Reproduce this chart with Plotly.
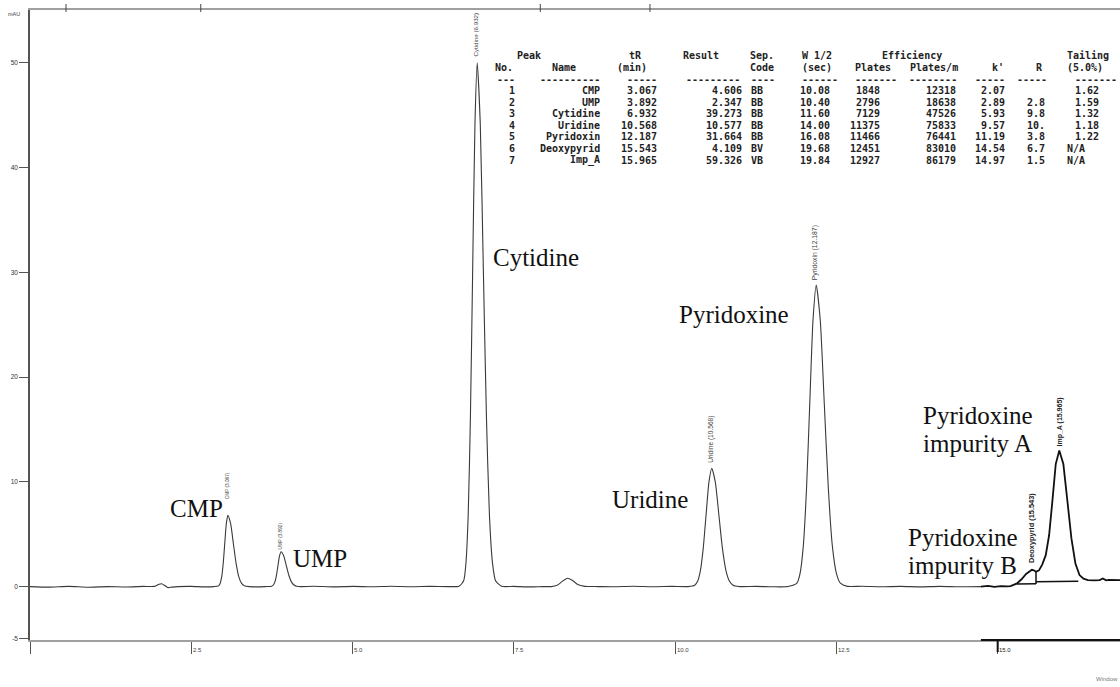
import plotly.graph_objects as go

# ---------------- data ----------------
# chromatogram, time [min] / signal [mAU]
trace_time = [0.0, 0.3, 0.6, 0.9, 1.2, 1.5, 1.75, 1.93, 2.0, 2.04, 2.09, 2.14, 2.2, 2.3, 2.5, 2.7, 2.85,
              2.923, 2.947, 2.971, 2.995, 3.019, 3.043, 3.067, 3.110, 3.152, 3.195, 3.237, 3.28, 3.322, 3.40,
              3.55, 3.65,
              3.748, 3.772, 3.796, 3.82, 3.844, 3.868, 3.892, 3.932, 3.972, 4.012, 4.052, 4.092, 4.132, 4.2,
              4.4, 4.7, 5.0, 5.3, 5.6, 5.9, 6.2, 6.5, 6.65,
              6.722, 6.757, 6.792, 6.827, 6.862, 6.897, 6.932, 6.98, 7.027, 7.075, 7.122, 7.17, 7.217, 7.31,
              7.5, 7.75, 7.95,
              8.08, 8.17, 8.25, 8.33, 8.41, 8.49, 8.6,
              8.8, 9.05, 9.35, 9.65, 9.95, 10.2,
              10.304, 10.348, 10.392, 10.436, 10.48, 10.524, 10.568, 10.623, 10.678, 10.733, 10.788, 10.843,
              10.898, 11.0,
              11.25, 11.5, 11.75,
              11.887, 11.937, 11.987, 12.037, 12.087, 12.137, 12.187, 12.25, 12.312, 12.375, 12.437, 12.5,
              12.562, 12.67,
              12.9, 13.2, 13.5, 13.8, 14.1, 14.4, 14.74]
trace_mau = [0.0, -0.05, 0.02, -0.06, 0.0, -0.04, 0.02, 0.02, 0.22, 0.27, 0.1, -0.1, -0.05, 0.0, 0.02, -0.03, 0.0,
             0.07, 0.30, 0.92, 2.21, 4.13, 6.0, 6.8, 6.0, 4.13, 2.21, 0.92, 0.30, 0.08, 0.0,
             -0.03, 0.0,
             0.04, 0.15, 0.45, 1.08, 2.02, 2.94, 3.33, 2.94, 2.02, 1.08, 0.45, 0.15, 0.04, 0.0,
             0.03, -0.03, 0.02, -0.02, 0.03, -0.02, 0.02, 0.0, 0.04,
             0.55, 2.2, 6.75, 16.25, 30.35, 44.1, 50.0, 44.1, 30.35, 16.25, 6.75, 2.2, 0.55, 0.03,
             0.02, -0.03, 0.0,
             0.0, 0.12, 0.5, 0.8, 0.58, 0.2, 0.02,
             0.0, -0.02, 0.03, -0.02, 0.02, 0.0,
             0.12, 0.5, 1.53, 3.67, 6.86, 9.97, 11.3, 9.97, 6.86, 3.67, 1.53, 0.5,
             0.12, 0.0,
             0.02, -0.02, 0.0,
             0.32, 1.27, 3.89, 9.36, 17.48, 25.4, 28.8, 25.4, 17.48, 9.36, 3.89, 1.27,
             0.32, 0.02,
             0.03, -0.02, 0.02, -0.03, 0.02, -0.02, 0.0]

# end segment (drawn heavier in the report)
tail_time = [14.74, 14.85, 14.95, 15.05, 15.15, 15.2, 15.30, 15.37, 15.44, 15.50, 15.53, 15.56, 15.594, 15.64,
             15.69, 15.745, 15.797, 15.85, 15.90, 15.955, 16.018, 16.08, 16.143, 16.205, 16.268, 16.33, 16.40,
             16.5, 16.58, 16.63, 16.68, 16.72, 16.8, 16.9]
tail_mau = [0.0, 0.06, -0.03, 0.05, 0.02, 0.05, 0.3, 0.7, 1.2, 1.52, 1.6, 1.55, 1.42, 1.55,
            2.1, 3.0, 4.9, 8.3, 11.7, 13.0, 11.7, 8.2, 4.6, 2.2, 1.1, 0.75, 0.62,
            0.6, 0.62, 0.78, 0.6, 0.64, 0.6, 0.62]

# integration baseline / drop line
base_time = [15.295, 15.594, None, 15.594, 15.594, None, 15.594, 16.25]
base_mau = [0.24, 0.26, None, 0.24, 1.40, None, 0.46, 0.50]

# report table
peak_no = [1, 2, 3, 4, 5, 6, 7]
peak_names = ["CMP", "UMP", "Cytidine", "Uridine", "Pyridoxin", "Deoxypyrid", "Imp_A"]
peak_tr = [3.067, 3.892, 6.932, 10.568, 12.187, 15.543, 15.965]
result = [4.606, 2.347, 39.273, 10.577, 31.664, 4.109, 59.326]
sep_code = ["BB", "BB", "BB", "BB", "BB", "BV", "VB"]
w_half = [10.08, 10.40, 11.60, 14.00, 16.08, 19.68, 19.84]
plates = [1848, 2796, 7129, 11375, 11466, 12451, 12927]
plates_per_m = [12318, 18638, 47526, 75833, 76441, 83010, 86179]
k_prime = [2.07, 2.89, 5.93, 9.57, 11.19, 14.54, 14.97]
resolution = ["", "2.8", "9.8", "10.", "3.8", "6.7", "1.5"]
tailing = ["1.62", "1.59", "1.32", "1.18", "1.22", "N/A", "N/A"]

header_1 = ["Peak", "tR", "Result", "Sep.", "W 1/2", "Efficiency", "Tailing"]
header_2 = ["No.", "Name", "(min)", "Code", "(sec)", "Plates", "Plates/m", "k'", "R", "(5.0%)"]

# rotated labels above the peaks
label_time = [3.059, 3.886, 6.913, 10.552, 12.168, 15.528, 15.967]
label_mau = [9.62, 4.85, 52.7, 14.08, 31.92, 5.56, 15.67]

# big compound names
name_text = ["CMP", "UMP", "Cytidine", "Uridine", "Pyridoxine"]
name_time = [2.584, 4.488, 7.851, 9.611, 10.908]
name_mau = [7.47, 2.66, 31.39, 8.27, 25.97]
imp_text = ["Pyridoxine", "impurity A", "Pyridoxine", "impurity B"]
imp_time = [13.838, 13.838, 13.61, 13.61]
imp_mau = [16.29, 13.62, 4.68, 2.05]

event_time = [0.558, 2.647, 7.91, 9.61]

xtick_vals = [0, 2.5, 5.0, 7.5, 10.0, 12.5, 15.0]
xtick_text = ["", "2.5", "5.0", "7.5", "10.0", "12.5", "15.0"]
ytick_vals = [-5, 0, 10, 20, 30, 40, 50]
ytick_text = ["-5", "0", "10", "20", "30", "40", "50"]

# ---------------- layout constants ----------------
W, H = 1120, 687
ML, MR, MT, MB = 30, 0, 10, 47
PW, PH = W - ML - MR, H - MT - MB
X_RANGE = [0, 16.896]
Y_RANGE = [-5.1, 55.05]


def px_x(px):
    return (px - ML) / PW


def px_y(py):
    return (H - MB - py) / PH


fig = go.Figure()

fig.add_trace(go.Scatter(x=trace_time, y=trace_mau, mode="lines",
                         line=dict(color="#3a3a3a", width=1.1, shape="spline", smoothing=0.6),
                         hoverinfo="skip", showlegend=False))
fig.add_trace(go.Scatter(x=tail_time, y=tail_mau, mode="lines",
                         line=dict(color="#111111", width=1.8),
                         hoverinfo="skip", showlegend=False))
fig.add_trace(go.Scatter(x=base_time, y=base_mau, mode="lines",
                         line=dict(color="#111111", width=1.5),
                         hoverinfo="skip", showlegend=False))
fig.add_trace(go.Scatter(x=event_time, y=[Y_RANGE[1] + 0.45] * len(event_time), mode="markers",
                         marker=dict(symbol="y-up-open", size=7, color="#444444",
                                     line=dict(color="#444444", width=1.2)),
                         cliponaxis=False, hoverinfo="skip", showlegend=False))

ann = []
# rotated peak labels
label_sizes = [4.7, 4.7, 6.2, 6.6, 6.8, 7.4, 7.0]
for i, (n, tr) in enumerate(zip(peak_names, peak_tr)):
    bold = i >= 5
    ann.append(dict(x=label_time[i], y=label_mau[i], xref="x", yref="y",
                    text=f"{n} ({tr:.3f})", textangle=-90, showarrow=False,
                    xanchor="center", yanchor="middle", borderpad=0, borderwidth=0,
                    font=dict(family="Liberation Sans, Arial", size=label_sizes[i],
                              color="#222222" if bold else "#444444",
                              weight="bold" if bold else "normal")))

# big serif names
for t, xv, yv in zip(name_text, name_time, name_mau):
    ann.append(dict(x=xv, y=yv, xref="x", yref="y", text=t, showarrow=False,
                    xanchor="center", yanchor="middle", borderpad=0, borderwidth=0,
                    font=dict(family="Liberation Serif, Times New Roman", size=25, color="#111111")))
for t, xv, yv in zip(imp_text, imp_time, imp_mau):
    ann.append(dict(x=xv, y=yv, xref="x", yref="y", text=t, showarrow=False,
                    xanchor="left", yanchor="middle", borderpad=0, borderwidth=0,
                    font=dict(family="Liberation Serif, Times New Roman", size=25, color="#111111")))

# x tick labels (to the right of each tick)
for v, t in zip(xtick_vals, xtick_text):
    if not t:
        continue
    ann.append(dict(x=v, y=px_y(650), xref="x", yref="paper", text=t, showarrow=False,
                    xanchor="left", yanchor="middle", xshift=1.5, borderpad=0, borderwidth=0,
                    font=dict(family="Liberation Sans, Arial", size=6,
                              color="#222222" if v == 15.0 else "#444444")))

ann.append(dict(x=px_x(14), y=px_y(14), xref="paper", yref="paper", text="mAU", showarrow=False,
                xanchor="center", yanchor="middle", borderpad=0, borderwidth=0,
                font=dict(family="Liberation Sans, Arial", size=5.5, color="#444444")))
ann.append(dict(x=px_x(1118), y=px_y(679), xref="paper", yref="paper", text="Window", showarrow=False,
                xanchor="right", yanchor="middle", borderpad=0, borderwidth=0,
                font=dict(family="Liberation Sans, Arial", size=6, color="#777777")))

# ---------------- report table (one text per cell) ----------------
TFONT = dict(family="DejaVu Sans Mono", size=10, color="#222222", weight="bold")


def cell(text, px, py, anchor):
    ann.append(dict(x=px_x(px), y=px_y(py), xref="paper", yref="paper",
                    text=text.replace(" ", "\u00a0"), showarrow=False,
                    xanchor=anchor, yanchor="middle", borderpad=0, borderwidth=0, font=TFONT))


ROW_H1, ROW_H2, ROW_DASH = 55.7, 67.8, 79.4
row_py = [90.7 + 11.55 * i for i in range(len(peak_no))]

h1_left = [517, 629, 683, 750, 802, 882, 1067]
for t, px in zip(header_1, h1_left):
    cell(t, px, ROW_H1, "left")
h2_left = [495, 552, 617, 750, 802, 855, 910, 992, 1036, 1067]
for t, px in zip(header_2, h2_left):
    cell(t, px, ROW_H2, "left")

# dashed rule: (anchor px, count, anchor side)
dash_spec = [(515, 3, "right"), (600, 10, "right"), (657, 5, "right"), (740, 9, "right"),
             (751, 4, "left"), (838, 6, "right"), (897, 7, "right"), (957, 8, "right"),
             (1005, 5, "right"), (1047, 5, "right"), (1117, 7, "right")]
for px, n, side in dash_spec:
    cell("-" * n, px, ROW_DASH, side)

for i, py in enumerate(row_py):
    cell(str(peak_no[i]), 515, py, "right")
    cell(peak_names[i], 600, py, "right")
    cell(f"{peak_tr[i]:.3f}", 657, py, "right")
    cell(f"{result[i]:.3f}", 742, py, "right")
    cell(sep_code[i], 751, py, "left")
    cell(f"{w_half[i]:.2f}", 830, py, "right")
    cell(str(plates[i]), 880, py, "right")
    cell(str(plates_per_m[i]), 956, py, "right")
    cell(f"{k_prime[i]:.2f}", 1005, py, "right")
    if resolution[i]:
        cell(resolution[i], 1045, py, "right")
    if tailing[i] == "N/A":
        cell(tailing[i], 1067, py, "left")
    else:
        cell(tailing[i], 1099, py, "right")

# heavy end of the time axis and its 15.0 tick
shapes = [
    dict(type="line", xref="x", yref="paper", x0=14.74, x1=X_RANGE[1], y0=0, y1=0,
         line=dict(color="#111111", width=2)),
    dict(type="line", xref="x", yref="paper", x0=15.0, x1=15.0, y0=0, y1=-12 / PH,
         line=dict(color="#111111", width=2)),
]
# small event ticks crossing the top frame line
for t in event_time:
    shapes.append(dict(type="line", xref="x", yref="paper", x0=t, x1=t, y0=1 - 2 / PH, y1=1 + 6 / PH,
                       line=dict(color="#444444", width=1)))

fig.update_layout(
    width=W, height=H,
    margin=dict(l=ML, r=MR, t=MT, b=MB, pad=0),
    paper_bgcolor="white", plot_bgcolor="white",
    showlegend=False,
    annotations=ann, shapes=shapes,
    xaxis=dict(range=X_RANGE, showgrid=False, zeroline=False, showline=True, linecolor="#a0a0a0",
               linewidth=2, mirror=True, ticks="outside", ticklen=12, tickwidth=1, tickcolor="#555555",
               tickvals=xtick_vals, showticklabels=False),
    yaxis=dict(range=Y_RANGE, showgrid=False, zeroline=False, showline=True, linecolor="#555555",
               linewidth=1.5, ticks="outside", ticklen=9, tickwidth=1, tickcolor="#555555",
               tickvals=ytick_vals, ticktext=ytick_text,
               tickfont=dict(family="Liberation Sans, Arial", size=6.5, color="#333333")),
)

fig.write_html("out.html")
